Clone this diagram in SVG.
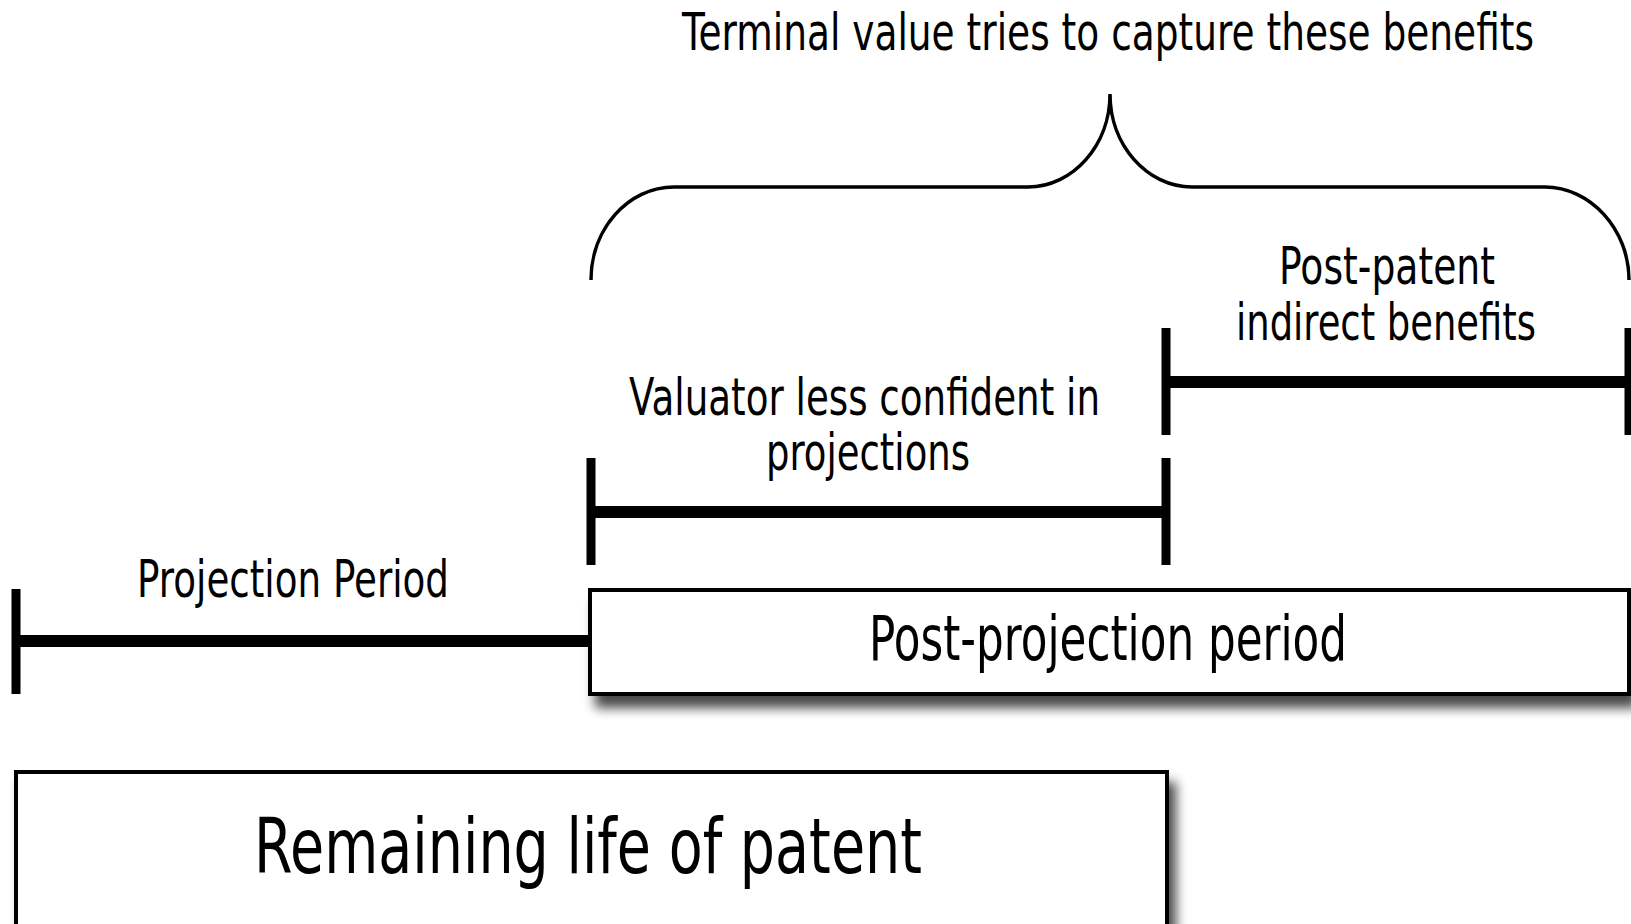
<svg xmlns="http://www.w3.org/2000/svg" width="1631" height="924" viewBox="0 0 1631 924">
  <style>
    .lbl { font-family: "DejaVu Sans", "Liberation Sans", sans-serif; fill: #000; }
    .sm { font-size: 52px; }
    .md { font-size: 62px; }
    .lg { font-size: 77px; }
    .bar { stroke: #000; stroke-width: 12; fill: none; }
    .tick { stroke: #000; stroke-width: 9; fill: none; }
    .box { fill: #fff; stroke: #000; stroke-width: 4; }
    .brace { fill: none; stroke: #000; stroke-width: 3.5; }
  </style>
  <defs>
    <filter id="shadow" x="-5%" y="-20%" width="115%" height="160%">
      <feGaussianBlur in="SourceAlpha" stdDeviation="6"/>
      <feOffset dx="7" dy="12" result="blur"/>
      <feComponentTransfer>
        <feFuncA type="linear" slope="0.72"/>
      </feComponentTransfer>
      <feMerge>
        <feMergeNode/>
        <feMergeNode in="SourceGraphic"/>
      </feMerge>
    </filter>
  </defs>

  <rect width="1631" height="924" fill="#fff"/>

  <!-- curly brace over the post-projection span -->
  <g id="brace">
    <path class="brace" d="M591,280 C591,229 628,187 674,187 H1028 C1073,187 1110,145 1110,94 C1110,145 1147,187 1192,187 H1545 C1590,187 1629,229 1629,280"/>
    <text class="lbl sm" x="682" y="50" textLength="852" lengthAdjust="spacingAndGlyphs">Terminal value tries to capture these benefits</text>
  </g>

  <g id="connectors">
    <!-- post-patent span -->
    <g id="span-post-patent">
      <line class="bar" x1="1166" y1="382" x2="1629" y2="382"/>
      <line class="tick" x1="1166" y1="328" x2="1166" y2="435"/>
      <line class="tick" x1="1629" y1="328" x2="1629" y2="435"/>
    </g>
    <!-- less-confident span -->
    <g id="span-less-confident">
      <line class="bar" x1="591" y1="512" x2="1166" y2="512"/>
      <line class="tick" x1="591" y1="458" x2="591" y2="565"/>
      <line class="tick" x1="1166" y1="458" x2="1166" y2="565"/>
    </g>
    <!-- projection span -->
    <g id="span-projection">
      <line class="bar" x1="16" y1="641" x2="590" y2="641"/>
      <line class="tick" x1="16" y1="589" x2="16" y2="694"/>
    </g>
  </g>

  <g id="label-post-patent">
    <text class="lbl sm" x="1279" y="284" textLength="216" lengthAdjust="spacingAndGlyphs">Post-patent</text>
    <text class="lbl sm" x="1236" y="340" textLength="300" lengthAdjust="spacingAndGlyphs">indirect benefits</text>
  </g>

  <g id="label-less-confident">
    <text class="lbl sm" x="629" y="415" textLength="471" lengthAdjust="spacingAndGlyphs">Valuator less confident in</text>
    <text class="lbl sm" x="766" y="470" textLength="204" lengthAdjust="spacingAndGlyphs">projections</text>
  </g>

  <g id="label-projection">
    <text class="lbl sm" x="137" y="597" textLength="312" lengthAdjust="spacingAndGlyphs">Projection Period</text>
  </g>

  <g id="node-post-projection">
    <rect class="box" x="590" y="590" width="1039" height="104" filter="url(#shadow)"/>
    <text class="lbl md" x="869" y="660" textLength="478" lengthAdjust="spacingAndGlyphs">Post-projection period</text>
  </g>

  <g id="node-remaining-life">
    <rect class="box" x="16" y="772" width="1151" height="200" filter="url(#shadow)"/>
    <text class="lbl lg" x="254" y="873" textLength="668" lengthAdjust="spacingAndGlyphs">Remaining life of patent</text>
  </g>
</svg>
